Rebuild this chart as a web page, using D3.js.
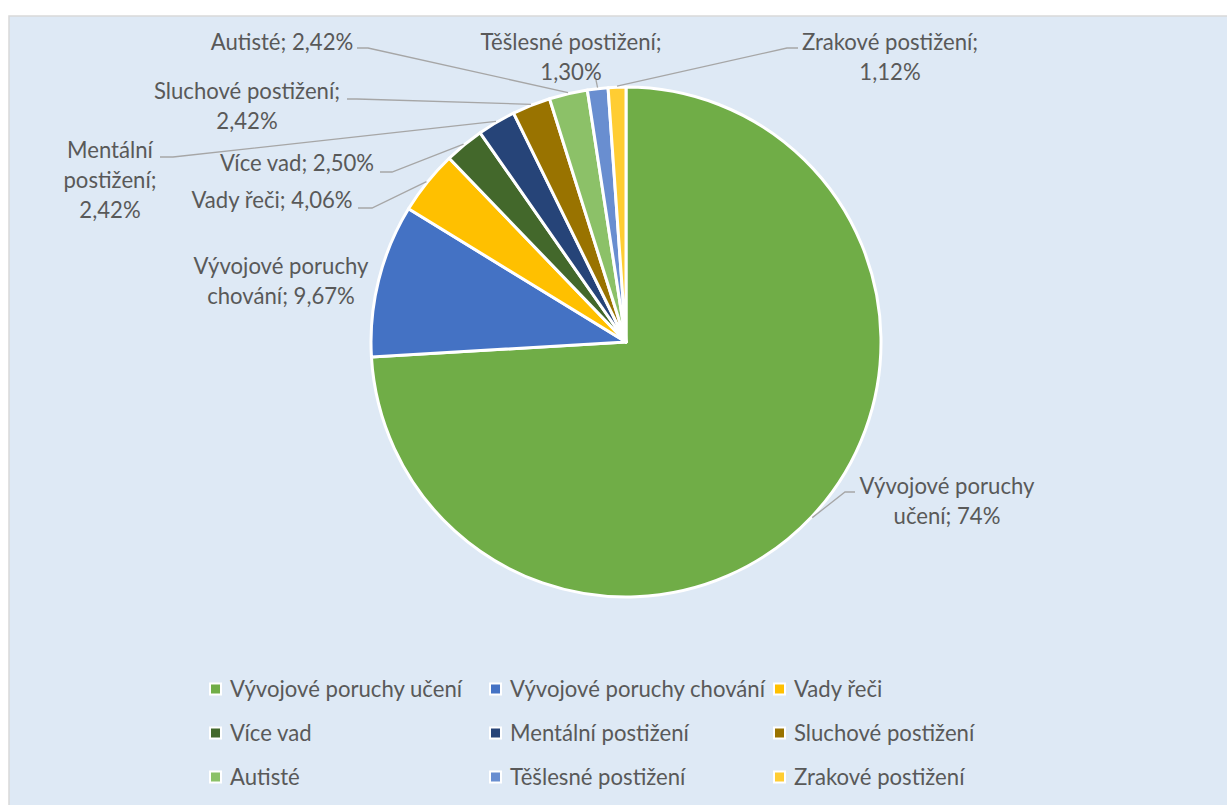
<!DOCTYPE html>
<html>
<head>
<meta charset="utf-8">
<script src="https://cdn.jsdelivr.net/npm/d3@7"></script>
<style>
  html, body { margin: 0; padding: 0; background: #ffffff; }
  svg { display: block; }
</style>
</head>
<body>
<svg id="chart" width="1227" height="805"></svg>
<script>
// ---- data ----
const categories = [
  "Vývojové poruchy učení",
  "Vývojové poruchy chování",
  "Vady řeči",
  "Více vad",
  "Mentální postižení",
  "Sluchové postižení",
  "Autisté",
  "Těšlesné postižení",
  "Zrakové postižení"
];
const values = [74.00, 9.67, 4.06, 2.50, 2.42, 2.42, 2.42, 1.30, 1.12];
const valueLabels = ["74%", "9,67%", "4,06%", "2,50%", "2,42%", "2,42%", "2,42%", "1,30%", "1,12%"];
const colors = ["#70ad47", "#4472c4", "#ffc000", "#43682b", "#264478", "#997300", "#8cc168", "#698ed0", "#ffcd33"];

// label line breaks (as wrapped in the original)
const labelLines = [
  ["Vývojové poruchy", "učení; 74%"],
  ["Vývojové poruchy", "chování; 9,67%"],
  ["Vady řeči; 4,06%"],
  ["Více vad; 2,50%"],
  ["Mentální", "postižení;", "2,42%"],
  ["Sluchové postižení;", "2,42%"],
  ["Autisté; 2,42%"],
  ["Těšlesné postižení;", "1,30%"],
  ["Zrakové postižení;", "1,12%"]
];

// ---- layout ----
const W = 1227, H = 805;
const cx = 626, cy = 342, R = 255;
const textColor = "#595959";
const fontFamily = "Lato, 'Open Sans', sans-serif";

// label text centres and leader elbows (start point near text, elbow point)
const labelLayout = [
  { x: 947, y: 486, leader: [[855, 492], [845, 492]] },
  { x: 281, y: 266, leader: null },
  { x: 272, y: 200, leader: [[358, 208], [372, 208]] },
  { x: 297, y: 163, leader: [[380, 172], [392, 172]] },
  { x: 110, y: 150, leader: [[160, 157], [173, 157]] },
  { x: 247, y: 91,  leader: [[347, 99], [357, 99]] },
  { x: 282, y: 42,  leader: [[357, 48], [368, 48]] },
  { x: 571, y: 42,  leader: [[596, 80], [596, 80]] },
  { x: 890, y: 42,  leader: [[798, 48], [787, 48]] }
];
const lineH = 30;

const svg = d3.select("#chart");

// calibrate font size so text width matches the original
const probe = svg.append("text").attr("font-family", fontFamily).attr("font-size", 100).text("Vývojové poruchy");
const probeLen = probe.node().getComputedTextLength();
probe.remove();
const fontSize = Math.max(14, Math.min(26, 100 * 175 / probeLen));

// background panel
svg.append("rect").attr("x", 0).attr("y", 0).attr("width", W).attr("height", H).attr("fill", "#ffffff");
svg.append("rect").attr("x", 9).attr("y", 16).attr("width", W + 10).attr("height", H + 10)
  .attr("fill", "#dee9f5").attr("stroke", "#d9d9d9").attr("stroke-width", 1.5);

// pie
const pie = d3.pie().sort(null).value(d => d.v).startAngle(0).endAngle(2 * Math.PI);
const data = values.map((v, i) => ({ v, i }));
const arcs = pie(data);
const arc = d3.arc().innerRadius(0).outerRadius(R);
const edgeArc = d3.arc().innerRadius(R + 1).outerRadius(R + 1);

const g = svg.append("g").attr("transform", `translate(${cx},${cy})`);
g.selectAll("path.slice").data(arcs).join("path")
  .attr("class", "slice")
  .attr("d", arc)
  .attr("fill", d => colors[d.data.i])
  .attr("stroke", "#ffffff")
  .attr("stroke-width", 3)
  .attr("stroke-linejoin", "round");

// leader lines
const line = d3.line();
arcs.forEach((a, i) => {
  const L = labelLayout[i];
  if (!L.leader) return;
  const c = edgeArc.centroid(a);
  const p = [cx + c[0], cy + c[1]];
  svg.append("path")
    .attr("d", line([L.leader[0], L.leader[1], p]))
    .attr("fill", "none")
    .attr("stroke", "#a6a6a6")
    .attr("stroke-width", 1.3);
});

// labels
labelLines.forEach((lines, i) => {
  const L = labelLayout[i];
  const t = svg.append("text")
    .attr("font-family", fontFamily)
    .attr("font-size", fontSize)
    .attr("fill", textColor)
    .attr("text-anchor", "middle");
  lines.forEach((s, k) => {
    t.append("tspan").attr("x", L.x).attr("y", L.y + k * lineH).attr("dy", "0.35em").text(s);
  });
});

// legend
const legCols = [211, 491, 775];
const legRows = [689, 733, 777];
const legend = svg.append("g");
categories.forEach((c, i) => {
  const col = i % 3, row = Math.floor(i / 3);
  const x = legCols[col], y = legRows[row];
  legend.append("rect").attr("x", x - 2).attr("y", y - 6.5).attr("width", 13).attr("height", 13).attr("fill", "#ffffff");
  legend.append("rect").attr("x", x).attr("y", y - 4.5).attr("width", 9).attr("height", 9).attr("fill", colors[i]);
  legend.append("text")
    .attr("x", x + 19).attr("y", y).attr("dy", "0.35em")
    .attr("font-family", fontFamily).attr("font-size", fontSize)
    .attr("fill", textColor)
    .text(c);
});
</script>
</body>
</html>
